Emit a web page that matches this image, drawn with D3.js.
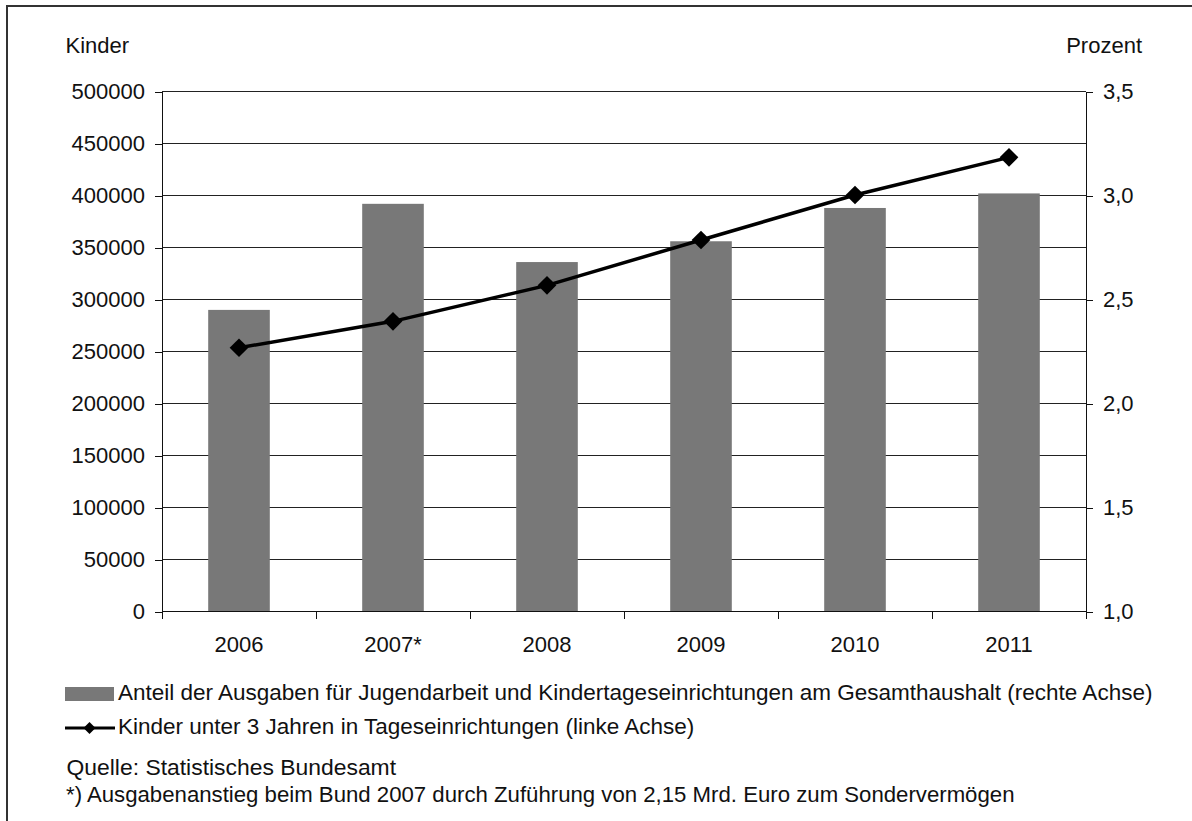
<!DOCTYPE html>
<html lang="de">
<head>
    <meta charset="UTF-8"/>
    <title>Kinder unter 3 Jahren</title>
    <script src="https://d3js.org/d3.v7.min.js"></script>
    <style type="text/css">
        body { margin: 0; background: #fff; }
        text {
            font-family: "Liberation Sans", Arial, sans-serif;
            font-size: 22px;
            fill: #111;
        }
        .note { font-size: 22.5px; }
        .axis path, .axis line {
            fill: none;
            stroke: #111;
            shape-rendering: crispEdges;
        }
        .grid line {
            stroke: #222;
            shape-rendering: crispEdges;
        }
    </style>
</head>
<body>
<div id="chart"></div>

<script>
// data
var years = ["2006", "2007*", "2008", "2009", "2010", "2011"]
var anteil = [2.45, 2.96, 2.68, 2.78, 2.94, 3.01]          // Prozent, rechte Achse
var kinder = [253600, 279000, 313600, 357200, 400500, 436700] // linke Achse
var leftTicks = [0, 50000, 100000, 150000, 200000, 250000, 300000, 350000, 400000, 450000, 500000]
var rightTicks = [1.0, 1.5, 2.0, 2.5, 3.0, 3.5]

var width = 1192,
    height = 821
// plot area (don't call these top/left: window.top is read-only)
var pLeft = 162, pRight = 1086, pTop = 91.5, pBottom = 611.5

var svg = d3.select("#chart")
  .append("svg")
    .attr("width", width)
    .attr("height", height)

svg.append("rect").attr("width", width).attr("height", height).attr("fill", "#fff")

// frame (open at right / bottom, like the cropped original)
svg.append("path")
    .attr("d", "M7,821 V6 H1192")
    .attr("fill", "none")
    .attr("stroke", "#333")
    .attr("stroke-width", 2)

// scales
var x = d3.scaleBand().domain(years).range([pLeft, pRight]).paddingInner(0.6).paddingOuter(0.3)
var xGroup = d3.scaleBand().domain(years).range([pLeft, pRight])
var yLeft = d3.scaleLinear().domain([0, 500000]).range([pBottom, pTop])
var yRight = d3.scaleLinear().domain([1, 3.5]).range([pBottom, pTop])

var de = d3.formatLocale({decimal: ",", thousands: "", grouping: [3], currency: ["", "€"]})

// gridlines
svg.append("g").attr("class", "grid")
  .selectAll("line")
  .data(leftTicks)
  .enter().append("line")
    .attr("x1", pLeft).attr("x2", pRight)
    .attr("y1", function(d) { return yLeft(d) })
    .attr("y2", function(d) { return yLeft(d) })

// bars (rechte Achse)
svg.append("g")
  .selectAll("rect")
  .data(years)
  .enter().append("rect")
    .attr("x", function(d) { return x(d) })
    .attr("width", x.bandwidth())
    .attr("y", function(d, i) { return yRight(anteil[i]) })
    .attr("height", function(d, i) { return pBottom - yRight(anteil[i]) })
    .attr("fill", "#787878")

// axes
svg.append("g").attr("class", "axis")
    .attr("transform", "translate(" + pLeft + ",0)")
    .call(d3.axisLeft(yLeft).tickValues(leftTicks).tickSize(7).tickPadding(10).tickFormat(d3.format("d")))

svg.append("g").attr("class", "axis")
    .attr("transform", "translate(" + pRight + ",0)")
    .call(d3.axisRight(yRight).tickValues(rightTicks).tickSize(7).tickPadding(10).tickFormat(de.format(".1f")))

svg.selectAll(".axis text")
    .attr("font-size", null).attr("font-family", null)
    .attr("fill", "#111")
svg.selectAll(".axis").attr("font-size", null).attr("font-family", null)

// x axis: baseline + boundary ticks
var xAxis = svg.append("g").attr("class", "axis")
xAxis.append("line")
    .attr("x1", pLeft).attr("x2", pRight)
    .attr("y1", pBottom).attr("y2", pBottom)
xAxis.selectAll(".xt")
  .data(years.concat(["end"]))
  .enter().append("line")
    .attr("class", "xt")
    .attr("x1", function(d) { return d == "end" ? pRight : xGroup(d) })
    .attr("x2", function(d) { return d == "end" ? pRight : xGroup(d) })
    .attr("y1", pBottom).attr("y2", pBottom + 7)
xAxis.selectAll("text")
  .data(years)
  .enter().append("text")
    .attr("x", function(d) { return x(d) + x.bandwidth() / 2 })
    .attr("y", 652)
    .attr("text-anchor", "middle")
    .text(function(d) { return d })

// line (linke Achse)
var line = d3.line()
    .x(function(d, i) { return x(years[i]) + x.bandwidth() / 2 })
    .y(function(d) { return yLeft(d) })

svg.append("path")
    .datum(kinder)
    .attr("d", line)
    .attr("fill", "none")
    .attr("stroke", "#000")
    .attr("stroke-width", 3.5)

var diamond = d3.symbol().type(d3.symbolSquare).size(175)
svg.append("g")
  .selectAll("path")
  .data(kinder)
  .enter().append("path")
    .attr("d", diamond)
    .attr("transform", function(d, i) {
        return "translate(" + (x(years[i]) + x.bandwidth() / 2) + "," + yLeft(d) + ") rotate(45)" })
    .attr("fill", "#000")

// axis titles
svg.append("text").attr("x", 65.5).attr("y", 53).text("Kinder")
svg.append("text").attr("x", 1142).attr("y", 53).attr("text-anchor", "end").text("Prozent")

// legend
svg.append("rect").attr("x", 65).attr("y", 687).attr("width", 49).attr("height", 14).attr("fill", "#787878")
svg.append("text").attr("class", "note").attr("x", 118).attr("y", 699.5)
    .text("Anteil der Ausgaben für Jugendarbeit und Kindertageseinrichtungen am Gesamthaushalt (rechte Achse)")

svg.append("line").attr("x1", 65).attr("x2", 115).attr("y1", 728).attr("y2", 728)
    .attr("stroke", "#000").attr("stroke-width", 3)
svg.append("path").attr("d", d3.symbol().type(d3.symbolSquare).size(72))
    .attr("transform", "translate(89.5,728) rotate(45)").attr("fill", "#000")
svg.append("text").attr("class", "note").attr("x", 118).attr("y", 733.5)
    .text("Kinder unter 3 Jahren in Tageseinrichtungen (linke Achse)")

svg.append("text").attr("class", "note").attr("x", 66.5).attr("y", 774.5)
    .style("font-size", "22.9px").text("Quelle: Statistisches Bundesamt")
svg.append("text").attr("class", "note").attr("x", 66).attr("y", 802)
    .style("font-size", "22.2px")
    .text("*) Ausgabenanstieg beim Bund 2007 durch Zuführung von 2,15 Mrd. Euro zum Sondervermögen")
</script>
</body>
</html>
